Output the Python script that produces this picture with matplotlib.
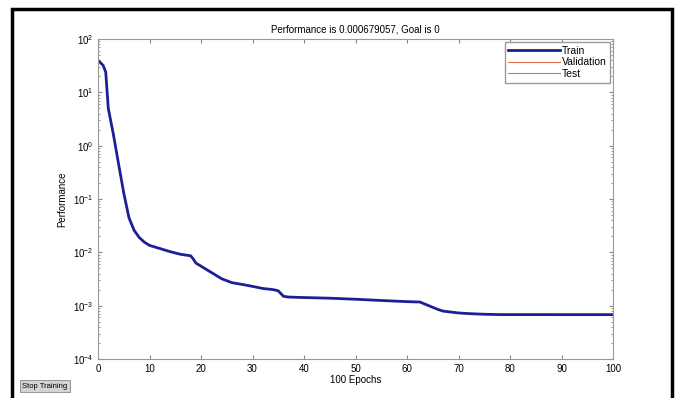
import matplotlib
matplotlib.use('Agg')
import matplotlib.pyplot as plt
from matplotlib.patches import Rectangle
import numpy as np

# training curve (epoch, performance)
epochs = [0, 1, 1.5, 2, 3, 4, 5, 6, 7, 8, 9, 10, 12, 14, 16, 18, 18.5, 19, 20, 22, 24, 26, 28, 30,
          32, 34, 35, 36, 37, 40, 45, 50, 55, 60, 62.5, 64, 66, 67, 68, 70, 72, 75, 78, 85, 90, 95, 100]
perf = [40, 32, 24, 5.0, 1.6, 0.45, 0.13, 0.045, 0.026, 0.019, 0.0155, 0.0135, 0.0118, 0.0103, 0.0092,
        0.0086, 0.0075, 0.0063, 0.0055, 0.0042, 0.0032, 0.0027, 0.0025, 0.0023, 0.0021, 0.002, 0.0019,
        0.0015, 0.00145, 0.00142, 0.00138, 0.00132, 0.00125, 0.00119, 0.00117, 0.00102, 0.00085,
        0.00079, 0.00077, 0.00073, 0.00071, 0.00069, 0.00068, 0.00068, 0.000679, 0.000679, 0.000679]
val_perf = []
test_perf = []

title = 'Performance is 0.000679057, Goal is 0'
xticks = list(range(0, 101, 10))

plt.rcParams['font.family'] = ['Liberation Sans', 'DejaVu Sans']

fig = plt.figure(figsize=(6.81, 3.98), dpi=100)
W, H = 681, 398
ax = fig.add_axes([98 / W, 1 - 359 / H, (613 - 98) / W, (359 - 39) / H])

ax.semilogy(epochs, perf, color='#1e1e96', lw=2.0, label='Train')
ax.semilogy(val_perf, val_perf, color='#e07050', lw=0.8, label='Validation')
ax.semilogy(test_perf, test_perf, color='#50b080', lw=0.8, label='Test')

ax.set_xlim(0, 100)
ax.set_ylim(1e-4, 1e2)
ax.set_xticks(xticks)
ax.tick_params(axis='both', which='both', direction='in', top=True, right=True,
               labelsize=7, color='#888888', length=3)
ax.tick_params(which='minor', length=1.5)
for s in ax.spines.values():
    s.set_color('#999999')
    s.set_linewidth(0.8)

ax.set_title(title, fontsize=7, pad=5)
ax.set_xlabel('100 Epochs', fontsize=7, labelpad=1)
ax.set_ylabel('Performance', fontsize=7, labelpad=4)

leg = ax.legend(loc='upper right', fontsize=7.5, handlelength=5, borderaxespad=0.3,
                fancybox=False, framealpha=1, edgecolor='#999999', labelspacing=0.15,
                handletextpad=0.1, borderpad=0.35)

# window frame and stop button
fig.patches.append(Rectangle((12 / W, -0.05), (672 - 12) / W, 1.05 - 9 / H, transform=fig.transFigure,
                             fill=False, edgecolor='black', lw=2.5))
fig.text(22 / W, 1 - 386 / H, 'Stop Training', fontsize=5.5, va='center', ha='left',
         bbox=dict(boxstyle='square,pad=0.3', fc='#d4d4d4', ec='#888888', lw=0.6))

fig.savefig('out.png', dpi=100)
